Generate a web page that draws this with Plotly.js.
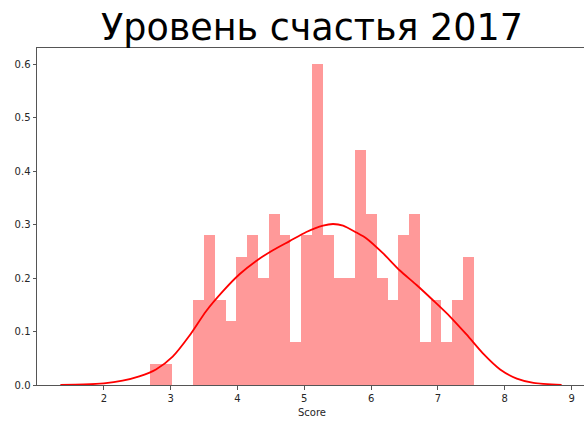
<!DOCTYPE html>
<html>
<head>
<meta charset="utf-8">
<script src="https://cdn.plot.ly/plotly-3.0.1.min.js"></script>
<style>
  html, body { margin: 0; padding: 0; overflow: hidden; background: #fff; }
  #chart { width: 600px; height: 421px; }
</style>
</head>
<body>
<div id="chart"></div>
<script>
// Happiness score histogram (30 bins, density) with KDE curve
const scoreMin = 2.693;
const scoreMax = 7.537;
const binCount = 30;
const totalCountries = 155;
const binCounts = [1, 1, 0, 0, 4, 7, 4, 3, 6, 7, 5, 8, 7, 2, 7, 15, 7, 5, 5, 11, 8, 5, 4, 7, 8, 2, 4, 2, 4, 6];

// KDE curve samples (score, density)
const kdeX = [1.35, 1.70, 2.00, 2.28, 2.53, 2.78, 3.03, 3.28, 3.53, 3.78, 4.03, 4.28, 4.53, 4.78, 5.03, 5.28, 5.43, 5.58, 5.78, 5.93, 6.18, 6.43, 6.68, 6.93, 7.18, 7.43, 7.68, 7.93, 8.18, 8.43, 8.85];
const kdeY = [0.0003, 0.001, 0.003, 0.008, 0.016, 0.029, 0.053, 0.092, 0.138, 0.175, 0.207, 0.232, 0.252, 0.269, 0.286, 0.298, 0.301, 0.298, 0.285, 0.274, 0.246, 0.214, 0.187, 0.158, 0.128, 0.094, 0.058, 0.029, 0.012, 0.004, 0.0003];

const xTicks = [2, 3, 4, 5, 6, 7, 8, 9];
const yTicks = [0.0, 0.1, 0.2, 0.3, 0.4, 0.5, 0.6];

const binWidth = (scoreMax - scoreMin) / binCount;
const binCenters = binCounts.map((_, i) => scoreMin + (i + 0.5) * binWidth);
const density = binCounts.map(c => c / (totalCountries * binWidth));

const font = 'DejaVu Sans, Liberation Sans, sans-serif';

const traces = [
  {
    type: 'bar',
    x: binCenters,
    y: density,
    width: binWidth,
    marker: { color: 'rgba(255,0,0,0.4)', line: { width: 0 } },
    hoverinfo: 'x+y'
  },
  {
    type: 'scatter',
    mode: 'lines',
    x: kdeX,
    y: kdeY,
    line: { color: '#ff0000', width: 1.8, shape: 'spline', smoothing: 0.7 },
    hoverinfo: 'x+y'
  }
];

const axisCommon = {
  showline: true,
  mirror: true,
  linecolor: '#555555',
  linewidth: 1,
  ticks: 'outside',
  ticklen: 3.5,
  tickwidth: 1,
  tickcolor: '#555555',
  showgrid: false,
  zeroline: false,
  tickfont: { family: font, size: 10, color: '#262626' }
};

const layout = {
  width: 600,
  height: 421,
  margin: { l: 37, r: 13, t: 48, b: 36 },
  paper_bgcolor: '#ffffff',
  plot_bgcolor: '#ffffff',
  showlegend: false,
  bargap: 0,
  title: {
    text: 'Уровень счастья 2017',
    font: { family: font, size: 36.5, color: '#000000' },
    x: 0.5,
    xref: 'paper',
    xanchor: 'center',
    y: 0.905,
    yref: 'container',
    yanchor: 'bottom'
  },
  xaxis: Object.assign({}, axisCommon, {
    range: [1.0, 9.23],
    tickvals: xTicks,
    ticktext: xTicks.map(String),
    title: { text: 'Score', font: { family: font, size: 10, color: '#262626' }, standoff: 6 }
  }),
  yaxis: Object.assign({}, axisCommon, {
    range: [0, 0.63],
    tickvals: yTicks,
    ticktext: yTicks.map(v => v.toFixed(1))
  })
};

Plotly.newPlot('chart', traces, layout, { staticPlot: true, displayModeBar: false });
</script>
</body>
</html>
